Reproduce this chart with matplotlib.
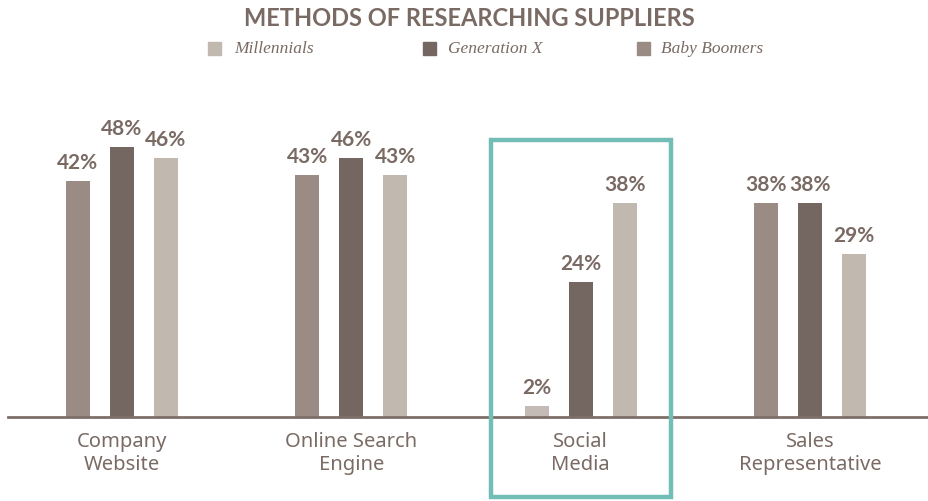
import matplotlib
matplotlib.use("Agg")
import matplotlib.pyplot as plt
from matplotlib.patches import Rectangle
import numpy as np

categories = ["Company\nWebsite", "Online Search\nEngine", "Social\nMedia", "Sales\nRepresentative"]
series_names = ["Millennials", "Generation X", "Baby Boomers"]
bar1 = [42, 43, 2, 38]
bar2 = [48, 46, 24, 38]
bar3 = [46, 43, 38, 29]

c_medium = "#9a8b85"
c_dark = "#746660"
c_light = "#c1b8af"
c_light2 = "#c4bab6"
txt = "#7a6a64"
teal = "#72bdb6"

W, H = 929, 502
fig = plt.figure(figsize=(W / 100, H / 100), dpi=100)

ax_left = 8 / W
ax_bottom = (H - 418) / H
ax_top_px = 100
ax = fig.add_axes([ax_left, ax_bottom, 1 - ax_left, (418 - ax_top_px) / H])
px_per_unit = 229.3
ax.set_xlim((8 - 122) / px_per_unit, (929 - 122) / px_per_unit)
ax.set_ylim(0, (418 - ax_top_px) / 5.625)

x = np.arange(len(categories))
bw = 24 / px_per_unit
off = 44 / px_per_unit

cols1 = [c_medium, c_medium, c_light2, c_medium]
groups = [(bar1, -off, cols1), (bar2, 0, [c_dark] * 4), (bar3, off, [c_light] * 4)]
lab_font = dict(family=["Lato", "DejaVu Sans"], fontsize=15, fontweight="bold", color=txt)
for vals, o, cols in groups:
    bars = ax.bar(x + o, vals, width=bw, color=cols, zorder=2)
    for b, v in zip(bars, vals):
        ax.text(b.get_x() + b.get_width() / 2, v + 1.6, f"{v}%", ha="center", va="bottom", **lab_font)

for s in ["top", "right", "left"]:
    ax.spines[s].set_visible(False)
ax.spines["bottom"].set_color("#7d6e68")
ax.spines["bottom"].set_linewidth(2)
ax.set_yticks([])
ax.set_xticks(x)
ax.set_xticklabels(categories, family=["Noto Sans", "DejaVu Sans"],
                   fontsize=14.5, color=txt, linespacing=1.2)
ax.tick_params(axis="x", length=0, pad=10)

# teal highlight box (figure pixel coords)
fig.patches.append(Rectangle((491 / W, (H - 498) / H), (671 - 491) / W, (498 - 141) / H,
                             transform=fig.transFigure, fill=False, edgecolor=teal, linewidth=3.2, zorder=5))

# title
fig.text(469 / W, 1 - 19 / H, "METHODS OF RESEARCHING SUPPLIERS", ha="center", va="center",
         family=["Lato", "DejaVu Sans"], fontsize=17, fontweight="bold", color=txt)

# legend
leg_cols = [c_light, c_dark, c_medium]
leg_sq = [208, 423, 637]
leg_tx = [234, 448, 661]
for name, col, sx, tx in zip(series_names, leg_cols, leg_sq, leg_tx):
    fig.patches.append(Rectangle((sx / W, 1 - 56 / H), 13 / W, 13 / H,
                                 transform=fig.transFigure, color=col))
    fig.text(tx / W, 1 - 49 / H, name, ha="left", va="center",
             family=["Liberation Serif", "DejaVu Serif"], style="italic", fontsize=12.5, color=txt)

fig.savefig("out.png", dpi=100)
